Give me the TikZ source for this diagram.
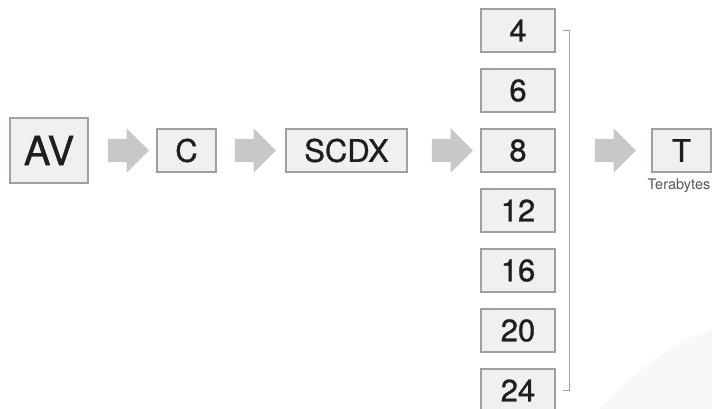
\documentclass[tikz,border=0pt]{standalone}
\usepackage{fontspec}
\setmainfont{TeX Gyre Heros}
\newfontfamily\medium{TeX Gyre Heros}[FakeBold=0.9]
\usepackage{xcolor}
\usepackage{tikz}
\usetikzlibrary{shapes.arrows,positioning,calc}

\definecolor{boxfill}{RGB}{239,240,242}
\definecolor{boxline}{RGB}{160,160,160}
\definecolor{flowgray}{RGB}{198,200,202}
\definecolor{textdark}{RGB}{30,30,30}
\definecolor{haze}{RGB}{248,248,248}

\begin{document}
\begin{tikzpicture}[
    x=1pt, y=-1pt,
    stage/.style={draw=boxline, line width=1.2pt, fill=boxfill, rectangle, minimum width=59pt, minimum height=43pt, inner sep=0pt, text=textdark, font=\medium\fontsize{31}{31}\selectfont},
    source/.style={stage, minimum width=78pt, minimum height=65pt, font=\medium\fontsize{40}{40}\selectfont},
    codec/.style={stage, minimum width=121pt},
    size/.style={stage, minimum width=74pt},
    flow/.style={single arrow, fill=flowgray, draw=none, minimum width=44pt, minimum height=41pt, single arrow head extend=10.5pt, inner xsep=0pt, inner ysep=11.5pt},
    bracket/.style={draw=boxline, line width=1pt},
    sublabel/.style={font=\fontsize{14.5}{14.5}\selectfont, text=textdark!75}
]

\useasboundingbox (0,0) rectangle (712,409);

% Background haze
\fill[haze] (600,409) .. controls (640,365) and (680,338) .. (712,330) -- (712,409) -- cycle;

% Stage 1: Source
\node[source] (av) at (49,150.5) {AV};

% Stage 2: Compression
\node[stage] (c) at (186.5,150.5) {C};

% Stage 3: Codec
\node[codec] (scdx) at (346.5,150.5) {SCDX};

% Stage 4: Sizes (column)
\node[size] (n4) at (518,30.5) {4};
\node[size] (n6) at (518,90.5) {6};
\node[size] (n8) at (518,150.5) {8};
\node[size] (n12) at (518,210.5) {12};
\node[size] (n16) at (518,270.5) {16};
\node[size] (n20) at (518,330.5) {20};
\node[size] (n24) at (518,390.5) {24};

% Stage 5: Result
\node[stage] (t) at (681.5,150.5) {T};
\node[sublabel, anchor=base] (tb) at (679,189) {Terabytes};

% Arrows
\node[flow] (f1) at (122.5,150.5) {};
\node[flow] (f2) at (249.5,150.5) {};
\node[flow] (f3) at (446.5,150.5) {};
\node[flow] (f4) at (609.5,150.5) {};

% Bracket
\draw[bracket] ([xshift=7]n4.east) -- ++(7,0) |- ([xshift=7]n24.east);

\end{tikzpicture}
\end{document}
